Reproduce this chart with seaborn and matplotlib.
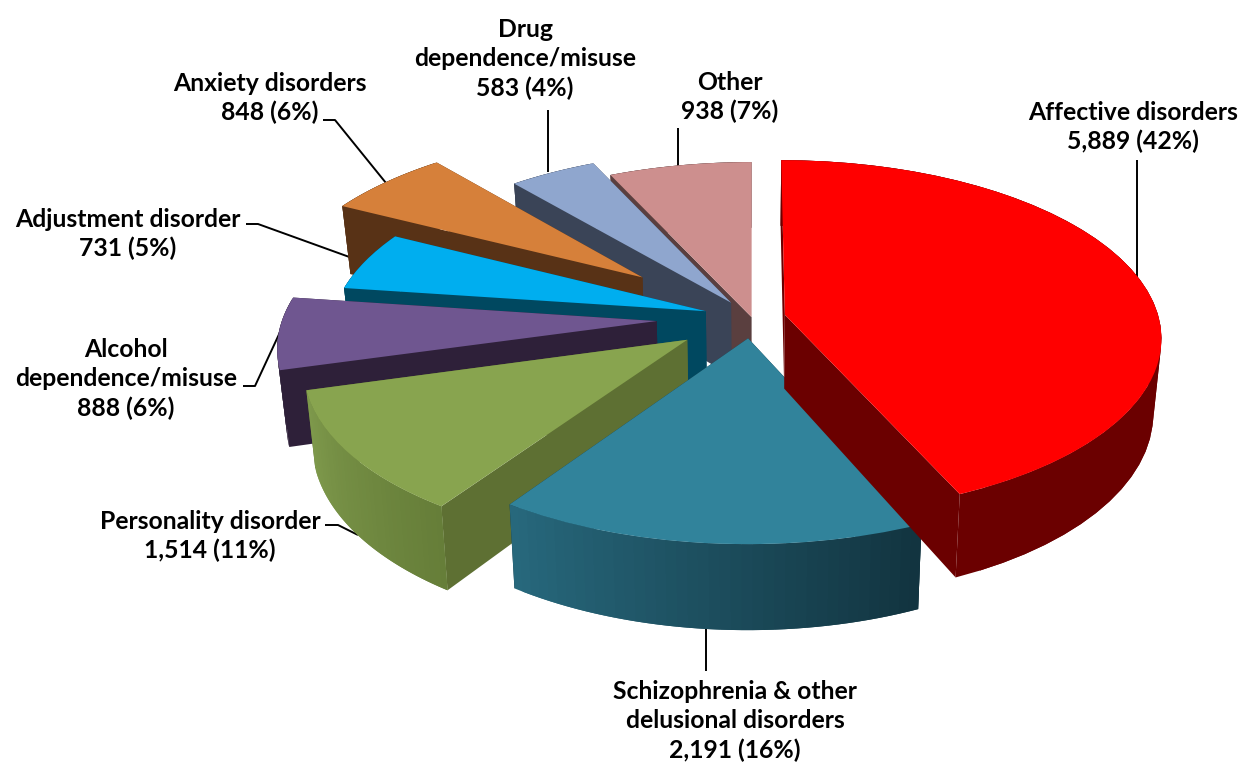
import numpy as np
import matplotlib
matplotlib.use("Agg")
import matplotlib.pyplot as plt
from matplotlib.transforms import Transform
import seaborn as sns

# slices go clockwise from 12 o'clock
categories = ["Affective disorders", "Schizophrenia & other\ndelusional disorders",
              "Personality disorder", "Alcohol\ndependence/misuse", "Adjustment disorder",
              "Anxiety disorders", "Drug\ndependence/misuse", "Other"]
counts = [5889, 2191, 1514, 888, 731, 848, 583, 938]
percents = [42, 16, 11, 6, 5, 6, 4, 7]

explode = [0.09, 0.115, 0.21, 0.255, 0.13, 0.385, 0.105, 0.005]
top_colors = ["#FF0000", "#31839B", "#88A44F", "#6F5690", "#00AEEF", "#D6803A", "#8FA6CE", "#CD8F8E"]
side_dark = ["#6B0000", "#123440", "#5E7033", "#2E2039", "#004860", "#583216", "#3A4457", "#5A3F3F"]
wall_left = ["#6B0000", "#27687C", "#7F9A4C", "#2E2039", "#004860", "#583216", "#3A4457", "#5A3F3F"]
wall_right = ["#6B0000", "#123440", "#667E39", "#2E2039", "#004860", "#583216", "#3A4457", "#5A3F3F"]
draw_order = [7, 6, 5, 4, 3, 2, 1, 0]

label_xy = [(1133, 127), (735, 721), (210, 536), (126, 379), (128, 234), (270, 98), (525, 59), (730, 97)]
leaders = [[(1137, 160), (1137, 280)], [(706, 625), (706, 671)],
           [(325, 525), (338, 525), (358, 535)], [(243, 386), (255, 386), (281, 330)],
           [(246, 224), (258, 224), (366, 263)], [(323, 120), (335, 120), (386, 183)],
           [(548, 110), (548, 172)], [(678, 128), (678, 168)]]

CX, CY = 752, 318
R, FLAT, PERSP, DEPTH, SHRINK = 374, 0.467, 0.125, 74, 0.02


def project(x, y, z=0.0):
    s = 1 / (1 + PERSP * np.asarray(y))
    return CX + R * np.asarray(x) * s * (1 - SHRINK * z), CY - R * FLAT * np.asarray(y) * s + DEPTH * z * s


class PlaneToPixels(Transform):
    input_dims = output_dims = 2

    def transform_non_affine(self, values):
        px, py = project(values[:, 0], values[:, 1])
        return np.column_stack([px, py])


sns.set_theme(style="white")
plt.rcParams["font.family"] = ["Lato", "DejaVu Sans"]

fig, ax = plt.subplots(figsize=(12.4, 7.65), dpi=100)
fig.subplots_adjust(0, 0, 1, 1)

wedges, _ = ax.pie(counts, explode=explode, colors=top_colors, startangle=90, counterclock=False)
plane = PlaneToPixels()
ax.set_aspect("auto")
ax.set_xlim(0, 1240)
ax.set_ylim(765, 0)
ax.axis("off")

for rank, i in enumerate(draw_order):
    w = wedges[i]
    base = 10 + rank * 10
    t1, t2 = np.radians(w.theta1), np.radians(w.theta2)
    cx, cy = w.center

    # radial cut faces
    for t in (t1, t2):
        xs = np.array([cx, cx + w.r * np.cos(t)])
        ys = np.array([cy, cy + w.r * np.sin(t)])
        tx, ty = project(xs, ys)
        bx, by = project(xs, ys, 1)
        ax.fill(np.r_[tx, bx[::-1]], np.r_[ty, by[::-1]], color=side_dark[i], lw=0, zorder=base)

    # outer rim, split in strips for the shading, each strip overlaps the next
    n = 40
    angles = np.linspace(t1, t2, n + 1)
    sx, _ = project(cx + w.r * np.cos(angles), cy + w.r * np.sin(angles))
    order = np.argsort(np.argsort(sx[:-1]))
    shades = sns.blend_palette([wall_left[i], wall_right[i]], n)
    for k in range(n):
        xs = cx + w.r * np.cos(angles[k:k + 3])
        ys = cy + w.r * np.sin(angles[k:k + 3])
        tx, ty = project(xs, ys)
        bx, by = project(xs, ys, 1)
        ax.fill(np.r_[tx, bx[::-1]], np.r_[ty, by[::-1]], color=shades[order[k]], lw=0, zorder=base + 1)

    w.set_transform(plane + ax.transData)
    w.set_zorder(base + 2)
    w.set_edgecolor("none")

for name, count, pct, (lx, ly), line in zip(categories, counts, percents, label_xy, leaders):
    ax.text(lx, ly, f"{name}\n{count:,} ({pct}%)", ha="center", va="center", fontsize=17.8,
            fontweight="bold", color="black", linespacing=1.33, zorder=200)
    ax.plot(*zip(*line), color="black", lw=1.4, zorder=1, solid_capstyle="butt")

fig.savefig("out.png", dpi=100, facecolor="white")
